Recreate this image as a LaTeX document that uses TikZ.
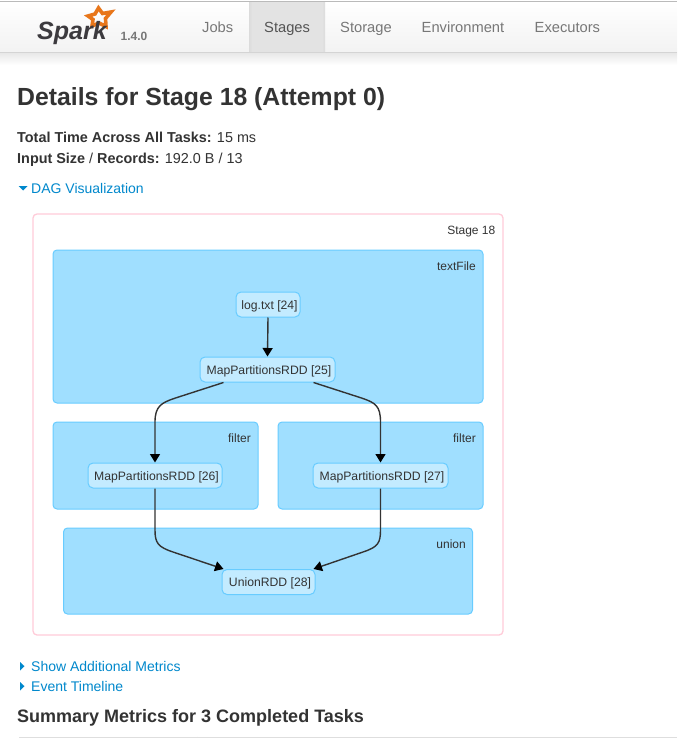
\documentclass[tikz,border=0pt]{standalone}
\usepackage{fontspec}
\setmainfont{Liberation Sans}
\usetikzlibrary{arrows.meta,shadings}
\definecolor{txt}{HTML}{333333}
\definecolor{nav}{HTML}{777777}
\definecolor{link}{HTML}{0088CC}
\definecolor{clfill}{HTML}{A0DFFF}
\definecolor{clline}{HTML}{68CCFF}
\definecolor{ndfill}{HTML}{C3EBFF}
\definecolor{stageline}{HTML}{FFCCD9}
\definecolor{sparkorange}{HTML}{E8761A}
\definecolor{sparkdark}{HTML}{3C3A3E}
\tikzset{
  x=1pt,y=-1pt,
  stagebox/.style={draw=stageline,line width=1.3pt,fill=white,rounded corners=4pt,minimum width=470pt,minimum height=421pt,inner sep=0pt},
  clusterbox/.style={draw=clline,line width=1pt,fill=clfill,rounded corners=4pt,inner sep=0pt},
  rddbox/.style={draw=clline,line width=1pt,fill=ndfill,rounded corners=5pt,inner sep=0pt,minimum height=25pt,text height=11pt,text depth=1.4pt,text=txt,font=\fontsize{12.2}{14}\selectfont,execute at begin node={\hspace*{3pt}}},
  clabel/.style={anchor=base east,inner sep=0pt,text=txt,font=\fontsize{12}{14}\selectfont},
  edge/.style={draw=txt,line width=1.4pt,-{Triangle[length=8.5pt,width=10pt,color=black]}},
  navitem/.style={anchor=base west,inner sep=0pt,text=nav,font=\fontsize{14.7}{16}\selectfont},
  para/.style={anchor=base west,inner sep=0pt,text=txt,font=\fontsize{14.4}{16}\selectfont},
  linktext/.style={anchor=base west,inner sep=0pt,text=link,font=\fontsize{14}{16}\selectfont},
}
\begin{document}
\begin{tikzpicture}
\useasboundingbox (0,0) rectangle (677,738);
\fill[white] (0,0) rectangle (677,738);
% header
\shade[top color=black!9,bottom color=white] (0,53) rectangle (677,65);
\shade[top color=white,bottom color=black!5] (0,2) rectangle (677,52);
\fill[black!11] (249,2) rectangle (325,52);
\shade[left color=black!14,right color=black!11] (249,2) rectangle (252,52);
\shade[left color=black!11,right color=black!14] (322,2) rectangle (325,52);
\draw[black!27,line width=1pt] (0,1.5) -- (677,1.5);
\draw[black!17,line width=1pt] (0,52.5) -- (677,52.5);
% logo
\draw[sparkorange,line width=3.6pt,line join=miter,miter limit=3]
  (98.5,8) -- (102.5,13.5) -- (111,12) -- (105.5,18.5) -- (106,26.5) -- (99,23) -- (92,26) -- (93,19.5) -- (88,16) -- (95,14) -- cycle;
\node[anchor=base west,inner sep=0pt,text=sparkdark,font=\fontsize{25}{28}\selectfont\bfseries\itshape] (brand) at (37,39.5) {Spark};
\node[anchor=base west,inner sep=0pt,text=nav,font=\fontsize{12}{14}\selectfont\bfseries] (version) at (120.5,41) {1.4.0};
\node[navitem] (jobs) at (202,33) {Jobs};
\node[navitem,text=black!67] (stages) at (264,33) {Stages};
\node[navitem] (storage) at (340,33) {Storage};
\node[navitem] (env) at (421.5,33) {Environment};
\node[navitem] (exec) at (534.5,33) {Executors};
% heading
\node[anchor=base west,inner sep=0pt,text=txt,font=\fontsize{24.8}{28}\selectfont\bfseries] (title) at (17,106) {Details for Stage 18 (Attempt 0)};
\node[para] (time) at (17,143) {\textbf{Total Time Across All Tasks:} 15 ms};
\node[para] (input) at (17,164) {\textbf{Input Size} / \textbf{Records:} 192.0 B / 13};
\fill[link] (18.5,186) -- (27.5,186) -- (23,190.5) -- cycle;
\node[linktext] (dag) at (31,193.3) {DAG Visualization};
% stage
\node[stagebox] (stage) at (268,424.5) {};
\node[clabel] (stagelabel) at (495.5,234) {Stage 18};
% clusters
\node[clusterbox,minimum width=430pt,minimum height=153pt] (c1) at (268,326.5) {};
\node[clusterbox,minimum width=205pt,minimum height=87pt] (c2) at (155.5,465.5) {};
\node[clusterbox,minimum width=205pt,minimum height=87pt] (c3) at (380.5,465.5) {};
\node[clusterbox,minimum width=409pt,minimum height=86pt] (c4) at (268,571) {};
\node[clabel] (l1) at (476,270) {textFile};
\node[clabel] (l2) at (251,442) {filter};
\node[clabel] (l3) at (476,442) {filter};
\node[clabel] (l4) at (466,548) {union};
% RDD nodes
\node[rddbox,minimum width=64pt] (n24) at (268,304.5) {log.txt [24]};
\node[rddbox,minimum width=135pt] (n25) at (267.5,369.5) {MapPartitionsRDD [25]};
\node[rddbox,minimum width=134pt] (n26) at (155,475.5) {MapPartitionsRDD [26]};
\node[rddbox,minimum width=135pt] (n27) at (380.5,475.5) {MapPartitionsRDD [27]};
\node[rddbox,minimum width=93pt] (n28) at (268.5,582) {UnionRDD [28]};
% edges
\draw[edge] (n24.south) -- (n25.north);
\draw[edge] ([xshift=-44pt]n25.south) -- ++(-48,15.5) .. controls +(-14,4.7) and (n26.north |- 0,406) .. (n26.north |- 0,422) -- (n26.north);
\draw[edge] ([xshift=46pt]n25.south) -- ++(48,15.5) .. controls +(14,4.7) and (n27.north |- 0,406) .. (n27.north |- 0,422) -- (n27.north);
\draw[edge] (n26.south) -- (n26.south |- 0,530) .. controls (n26.south |- 0,543) and (158,547) .. (173,552) -- ([xshift=2pt]n28.north west);
\draw[edge] (n27.south) -- (n27.south |- 0,530) .. controls (n27.south |- 0,543) and (378,547) .. (363,552) -- ([xshift=-2pt]n28.north east);
% below
\fill[link] (20,662) -- (24.5,666.2) -- (20,670.5) -- cycle;
\node[linktext] (more) at (31,671) {Show Additional Metrics};
\fill[link] (20,682) -- (24.5,686.2) -- (20,690.5) -- cycle;
\node[linktext] (event) at (31,691) {Event Timeline};
\node[anchor=base west,inner sep=0pt,text=txt,font=\fontsize{18}{20}\selectfont\bfseries] (summary) at (17,722) {Summary Metrics for 3 Completed Tasks};
\draw[black!13,line width=1pt] (19,737) -- (677,737);
\draw[black!13,line width=1pt] (197.5,736.5) -- (197.5,738);
\end{tikzpicture}
\end{document}
